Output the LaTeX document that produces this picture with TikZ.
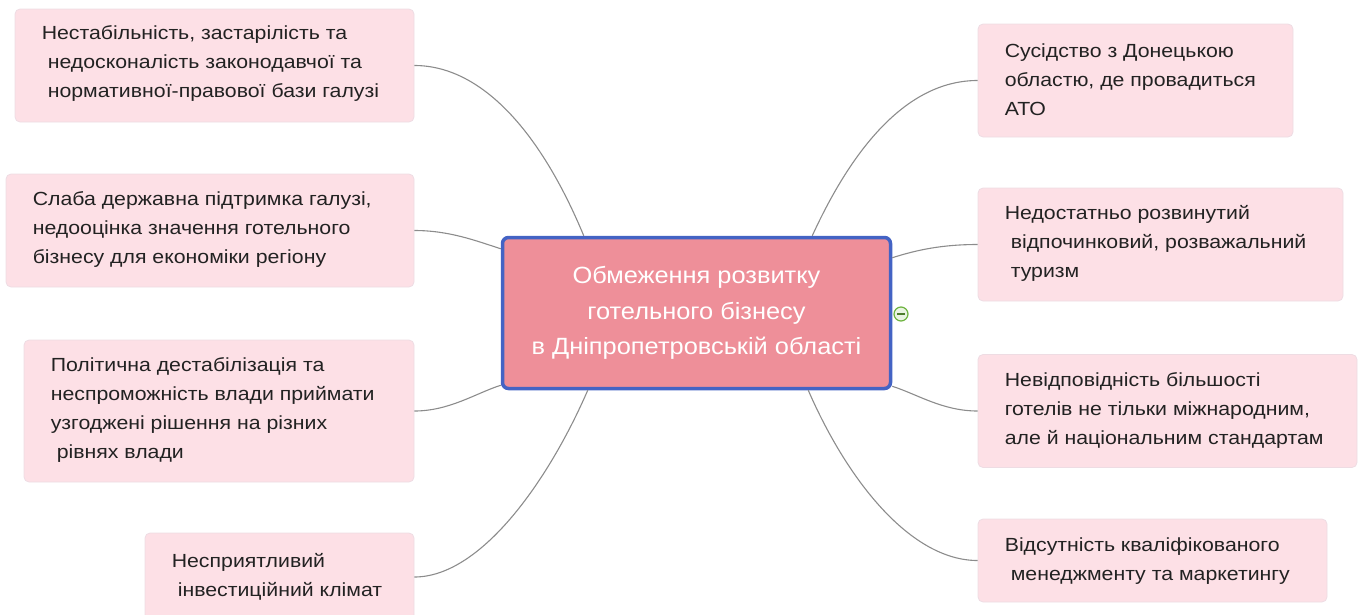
\documentclass[tikz,border=0pt]{standalone}
\usepackage{fontspec}
\setmainfont{Liberation Sans}[FakeStretch=1.12]
\newfontfamily\cfont{Liberation Sans}[FakeStretch=1.08]
\usetikzlibrary{calc}
\definecolor{boxfill}{HTML}{FDE0E6}
\definecolor{boxline}{HTML}{EEDCE3}
\definecolor{cfill}{HTML}{EE8F99}
\definecolor{cline}{HTML}{4463C4}
\definecolor{connc}{HTML}{8C8C8C}
\definecolor{txtc}{HTML}{222222}
\definecolor{tgreen}{HTML}{6DB33F}
\begin{document}
\begin{tikzpicture}[x=1pt,y=-1pt,
 box/.style={draw=boxline, line width=0.8pt, fill=boxfill, rounded corners=5pt, inner sep=0pt},
 txt/.style={anchor=west, align=left, inner sep=0pt, text=txtc, font=\fontsize{19}{29}\selectfont},
 conn/.style={draw=connc, line width=1.1pt},
 center/.style={draw=cline, line width=3.5pt, fill=cfill, rounded corners=6pt, inner sep=0pt,
   align=center, text=white, font=\cfont\fontsize{23.5}{35.5}\selectfont},
]
\useasboundingbox (0,0) rectangle (1363,614);

% central node
\node[center, minimum width=388pt, minimum height=151pt] (c) at (696.5,313)
  {Обмеження розвитку\\готельного бізнесу\\в Дніпропетровській області};

% left boxes
\node[box, minimum width=399pt, minimum height=113pt] (l1) at (214.5,65.5) {};
\node[box, minimum width=408pt, minimum height=113pt] (l2) at (210,230.5) {};
\node[box, minimum width=390pt, minimum height=142pt] (l3) at (219,411) {};
\node[box, minimum width=269pt, minimum height=88pt] (l4) at (279.5,577) {};

% right boxes
\node[box, minimum width=315pt, minimum height=113pt] (r1) at (1135.5,80.5) {};
\node[box, minimum width=365pt, minimum height=113pt] (r2) at (1160.5,244.5) {};
\node[box, minimum width=379pt, minimum height=113pt] (r3) at (1167.5,411) {};
\node[box, minimum width=349pt, minimum height=83pt] (r4) at (1152.5,560.5) {};

% texts
\node[txt] (l1t) at ($(l1.west)+(27,-2)$) {Нестабільність, застарілість та\\\hspace*{6pt}недосконалість законодавчої та\\\hspace*{6pt}нормативної-правової бази галузі};
\node[txt] (l2t) at ($(l2.west)+(27,-1)$) {Слаба державна підтримка галузі,\\недооцінка значення готельного\\бізнесу для економіки регіону};
\node[txt] (l3t) at ($(l3.west)+(27,-1)$) {Політична дестабілізація та\\неспроможність влади приймати\\узгоджені рішення на різних\\\hspace*{6pt}рівнях влади};
\node[txt] (l4t) at ($(l4.west)+(27,0)$) {Несприятливий\\\hspace*{6pt}інвестиційний клімат};
\node[txt] (r1t) at ($(r1.west)+(27,-1)$) {Сусідство з Донецькою\\областю, де провадиться\\АТО};
\node[txt] (r2t) at ($(r2.west)+(27,-1)$) {Недостатньо розвинутий\\\hspace*{6pt}відпочинковий, розважальний\\\hspace*{6pt}туризм};
\node[txt] (r3t) at ($(r3.west)+(27,-1)$) {Невідповідність більшості\\готелів не тільки міжнародним,\\але й національним стандартам};
\node[txt] (r4t) at ($(r4.west)+(27,1)$) {Відсутність кваліфікованого\\\hspace*{6pt}менеджменту та маркетингу};

% connector end points on the central node
\coordinate (e1) at ($(c.north west)+(83,0)$);
\coordinate (e2) at ($(c.north west)+(0,13)$);
\coordinate (e3) at ($(c.south west)+(0,-5)$);
\coordinate (e4) at ($(c.south west)+(87,0)$);
\coordinate (f1) at ($(c.north east)+(-80,0)$);
\coordinate (f2) at ($(c.north east)+(0,22)$);
\coordinate (f3) at ($(c.south east)+(0,-4)$);
\coordinate (f4) at ($(c.south east)+(-84,0)$);

% connectors
\draw[conn] (l1.east) .. controls +(66,0) and +(-44,-106) .. (e1);
\draw[conn] (l2.east) .. controls +(35,0) and +(-25,-8) .. (e2);
\draw[conn] (l3.east) .. controls +(35,0) and +(-25,8) .. (e3);
\draw[conn] (l4.east) .. controls +(66,0) and +(-40,92) .. (e4);
\draw[conn] (r1.west) .. controls +(-66,0) and +(44,-96) .. (f1);
\draw[conn] (r2.west) .. controls +(-35,0) and +(25,-8) .. (f2);
\draw[conn] (r3.west) .. controls +(-35,0) and +(25,8) .. (f3);
\draw[conn] (r4.west) .. controls +(-66,0) and +(40,92) .. (f4);

% collapse toggle
\node[circle, draw=tgreen, fill=tgreen!15, line width=1.2pt, minimum size=14pt, inner sep=0pt] (tog) at (901,314) {};
\draw[tgreen!70!black, line width=1.4pt] ($(tog.center)+(-4,0)$) -- ($(tog.center)+(4,0)$);
\end{tikzpicture}
\end{document}
